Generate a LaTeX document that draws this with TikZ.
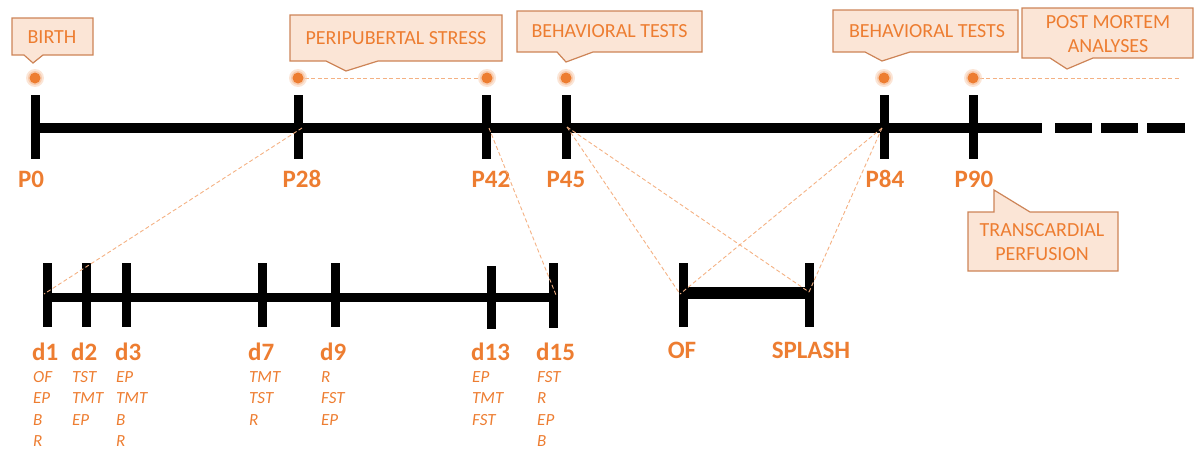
\documentclass[tikz,border=0pt]{standalone}
\usepackage{fontspec}
\setmainfont{Carlito}
\definecolor{org}{HTML}{ED7D31}
\definecolor{orglt}{HTML}{F4B183}
\definecolor{cfill}{HTML}{FBE5D6}
\definecolor{cline}{HTML}{CD8457}
\definecolor{glow}{HTML}{F8CBAD}
\tikzset{
  bar/.style={line width=10pt},
  tick/.style={line width=9pt},
  conn/.style={orglt, line width=0.9pt, dash pattern=on 4pt off 2.5pt},
  callbox/.style={fill=cfill, draw=cline, line width=1.2pt, line join=miter},
  ctext/.style={text=org, font=\fontsize{20}{24.5}\selectfont, align=center, inner sep=0pt},
  plabel/.style={text=org, font=\fontsize{25}{28}\selectfont\bfseries, inner sep=0pt},
  dlabel/.style={text=org, font=\fontsize{25}{28}\selectfont\bfseries, inner sep=0pt, anchor=base west},
  sub/.style={text=org, font=\fontsize{17}{20}\selectfont\itshape, inner sep=0pt, anchor=base west},
}
\newcommand{\glowdot}[2]{%
  \fill[glow, opacity=0.5] (#1,#2) circle (9pt);
  \fill[glow] (#1,#2) circle (7pt);
  \fill[org] (#1,#2) circle (5.5pt);}
\begin{document}
\begin{tikzpicture}[x=1pt,y=-1pt]
\useasboundingbox (0,0) rectangle (1194,450);

% ---------- main timeline ----------
\coordinate (P0) at (35,128);
\coordinate (P28) at (298,128);
\coordinate (P42) at (486,128);
\coordinate (P45) at (566,128);
\coordinate (P84) at (884,128);
\coordinate (P90) at (973,128);
\coordinate (Pend) at (1042,128);
\draw[bar] (P0) -- (Pend);
\draw[bar] (1055,128) -- (1092,128);
\draw[bar] (1101,128) -- (1138,128);
\draw[bar] (1147,128) -- (1185,128);
\foreach \x in {35,298,486,566,884,973}{
  \draw[tick] (\x,95) -- (\x,159);
}
\foreach \p/\x in {P0/31,P28/302,P42/491,P45/566,P84/885,P90/974}{
  \node[plabel] (l\p) at (\x,179) {\p};
}

% ---------- dots ----------
\draw[conn] (298,78) -- (487,78);
\draw[conn] (973,78) -- (1180,78);
\foreach \x in {35,298,487,566,884,973}{\glowdot{\x}{78}}

% ---------- callouts ----------
\draw[callbox] (12,18) -- (93,18) -- (93,55) -- (43,55) -- (33,63) -- (24,55) -- (12,55) -- cycle;
\node[ctext] (birth) at (52,37) {BIRTH};

\draw[callbox] (290,15) -- (502,15) -- (502,61) -- (378,61) -- (346,71) -- (326,61) -- (290,61) -- cycle;
\node[ctext] (stress) at (396,38.5) {PERIPUBERTAL STRESS};

\draw[callbox] (517,11) -- (702,11) -- (702,52) -- (593,52) -- (566,62) -- (557,52) -- (517,52) -- cycle;
\node[ctext] (beh1) at (609.5,31.5) {BEHAVIORAL TESTS};

\draw[callbox] (833,10) -- (1018,10) -- (1018,52) -- (910,52) -- (882,61) -- (865,52) -- (833,52) -- cycle;
\node[ctext] (beh2) at (927,31.5) {BEHAVIORAL TESTS};

\draw[callbox] (1022,8) -- (1193,8) -- (1193,58) -- (1093,58) -- (1067,69) -- (1050,58) -- (1022,58) -- cycle;
\node[ctext] (post) at (1108,34) {POST MORTEM\\ANALYSES};

\draw[callbox] (968,212) -- (994,212) -- (994,190) -- (1030,212) -- (1118,212) -- (1118,271) -- (968,271) -- cycle;
\node[ctext] (perf) at (1042,242) {TRANSCARDIAL\\PERFUSION};

% ---------- lower timeline ----------
\coordinate (d1) at (47,297.5);
\coordinate (d15) at (553,297.5);
\draw[line width=9pt] (d1) -- (d15);
\foreach \x/\a/\b in {47/263/327, 86/263/327, 126/263/327, 262/263/327, 335/263/327, 491/266/329, 553/263/328}{
  \draw[tick] (\x,\a) -- (\x,\b);
}
\foreach \n/\x in {d1/32, d2/71, d3/115, d7/248, d9/320, d13/471, d15/536}{
  \node[dlabel] (l\n) at (\x,360) {\n};
}
\foreach \col/\x/\items in {d1/33/{OF,EP,B,R}, d2/72/{TST,TMT,EP}, d3/116/{EP,TMT,B,R}, d7/249/{TMT,TST,R}, d9/321/{R,FST,EP}, d13/472/{EP,TMT,FST}, d15/537/{FST,R,EP,B}}{
  \foreach \t [count=\i] in \items {
    \node[sub] (s\col-\i) at (\x,{382.5+21.4*(\i-1)}) {\t};
  }
}

% ---------- OF / SPLASH ----------
\coordinate (OF) at (683,293);
\coordinate (SPL) at (809,293);
\draw[line width=12pt] (OF) -- (SPL);
\draw[tick] (683,263) -- (683,327);
\draw[tick] (809,263) -- (809,327);
\node[plabel] (lOF) at (682,350.5) {OF};
\node[plabel] (lSPL) at (811,350.5) {SPLASH};

% ---------- dashed connectors ----------
\coordinate (c28) at (302,128);
\coordinate (cd1) at (44,294);
\coordinate (c42) at (489,128);
\coordinate (cd15) at (556,295);
\coordinate (c45) at (567,127);
\coordinate (c84) at (882,128);
\coordinate (cOF) at (680,294);
\coordinate (cSPL) at (809,292);
\draw[conn] (c28) -- (cd1);
\draw[conn] (c42) -- (cd15);
\draw[conn] (c45) -- (cOF);
\draw[conn] (c45) -- (cSPL);
\draw[conn] (c84) -- (cOF);
\draw[conn] (c84) -- (cSPL);
\end{tikzpicture}
\end{document}
